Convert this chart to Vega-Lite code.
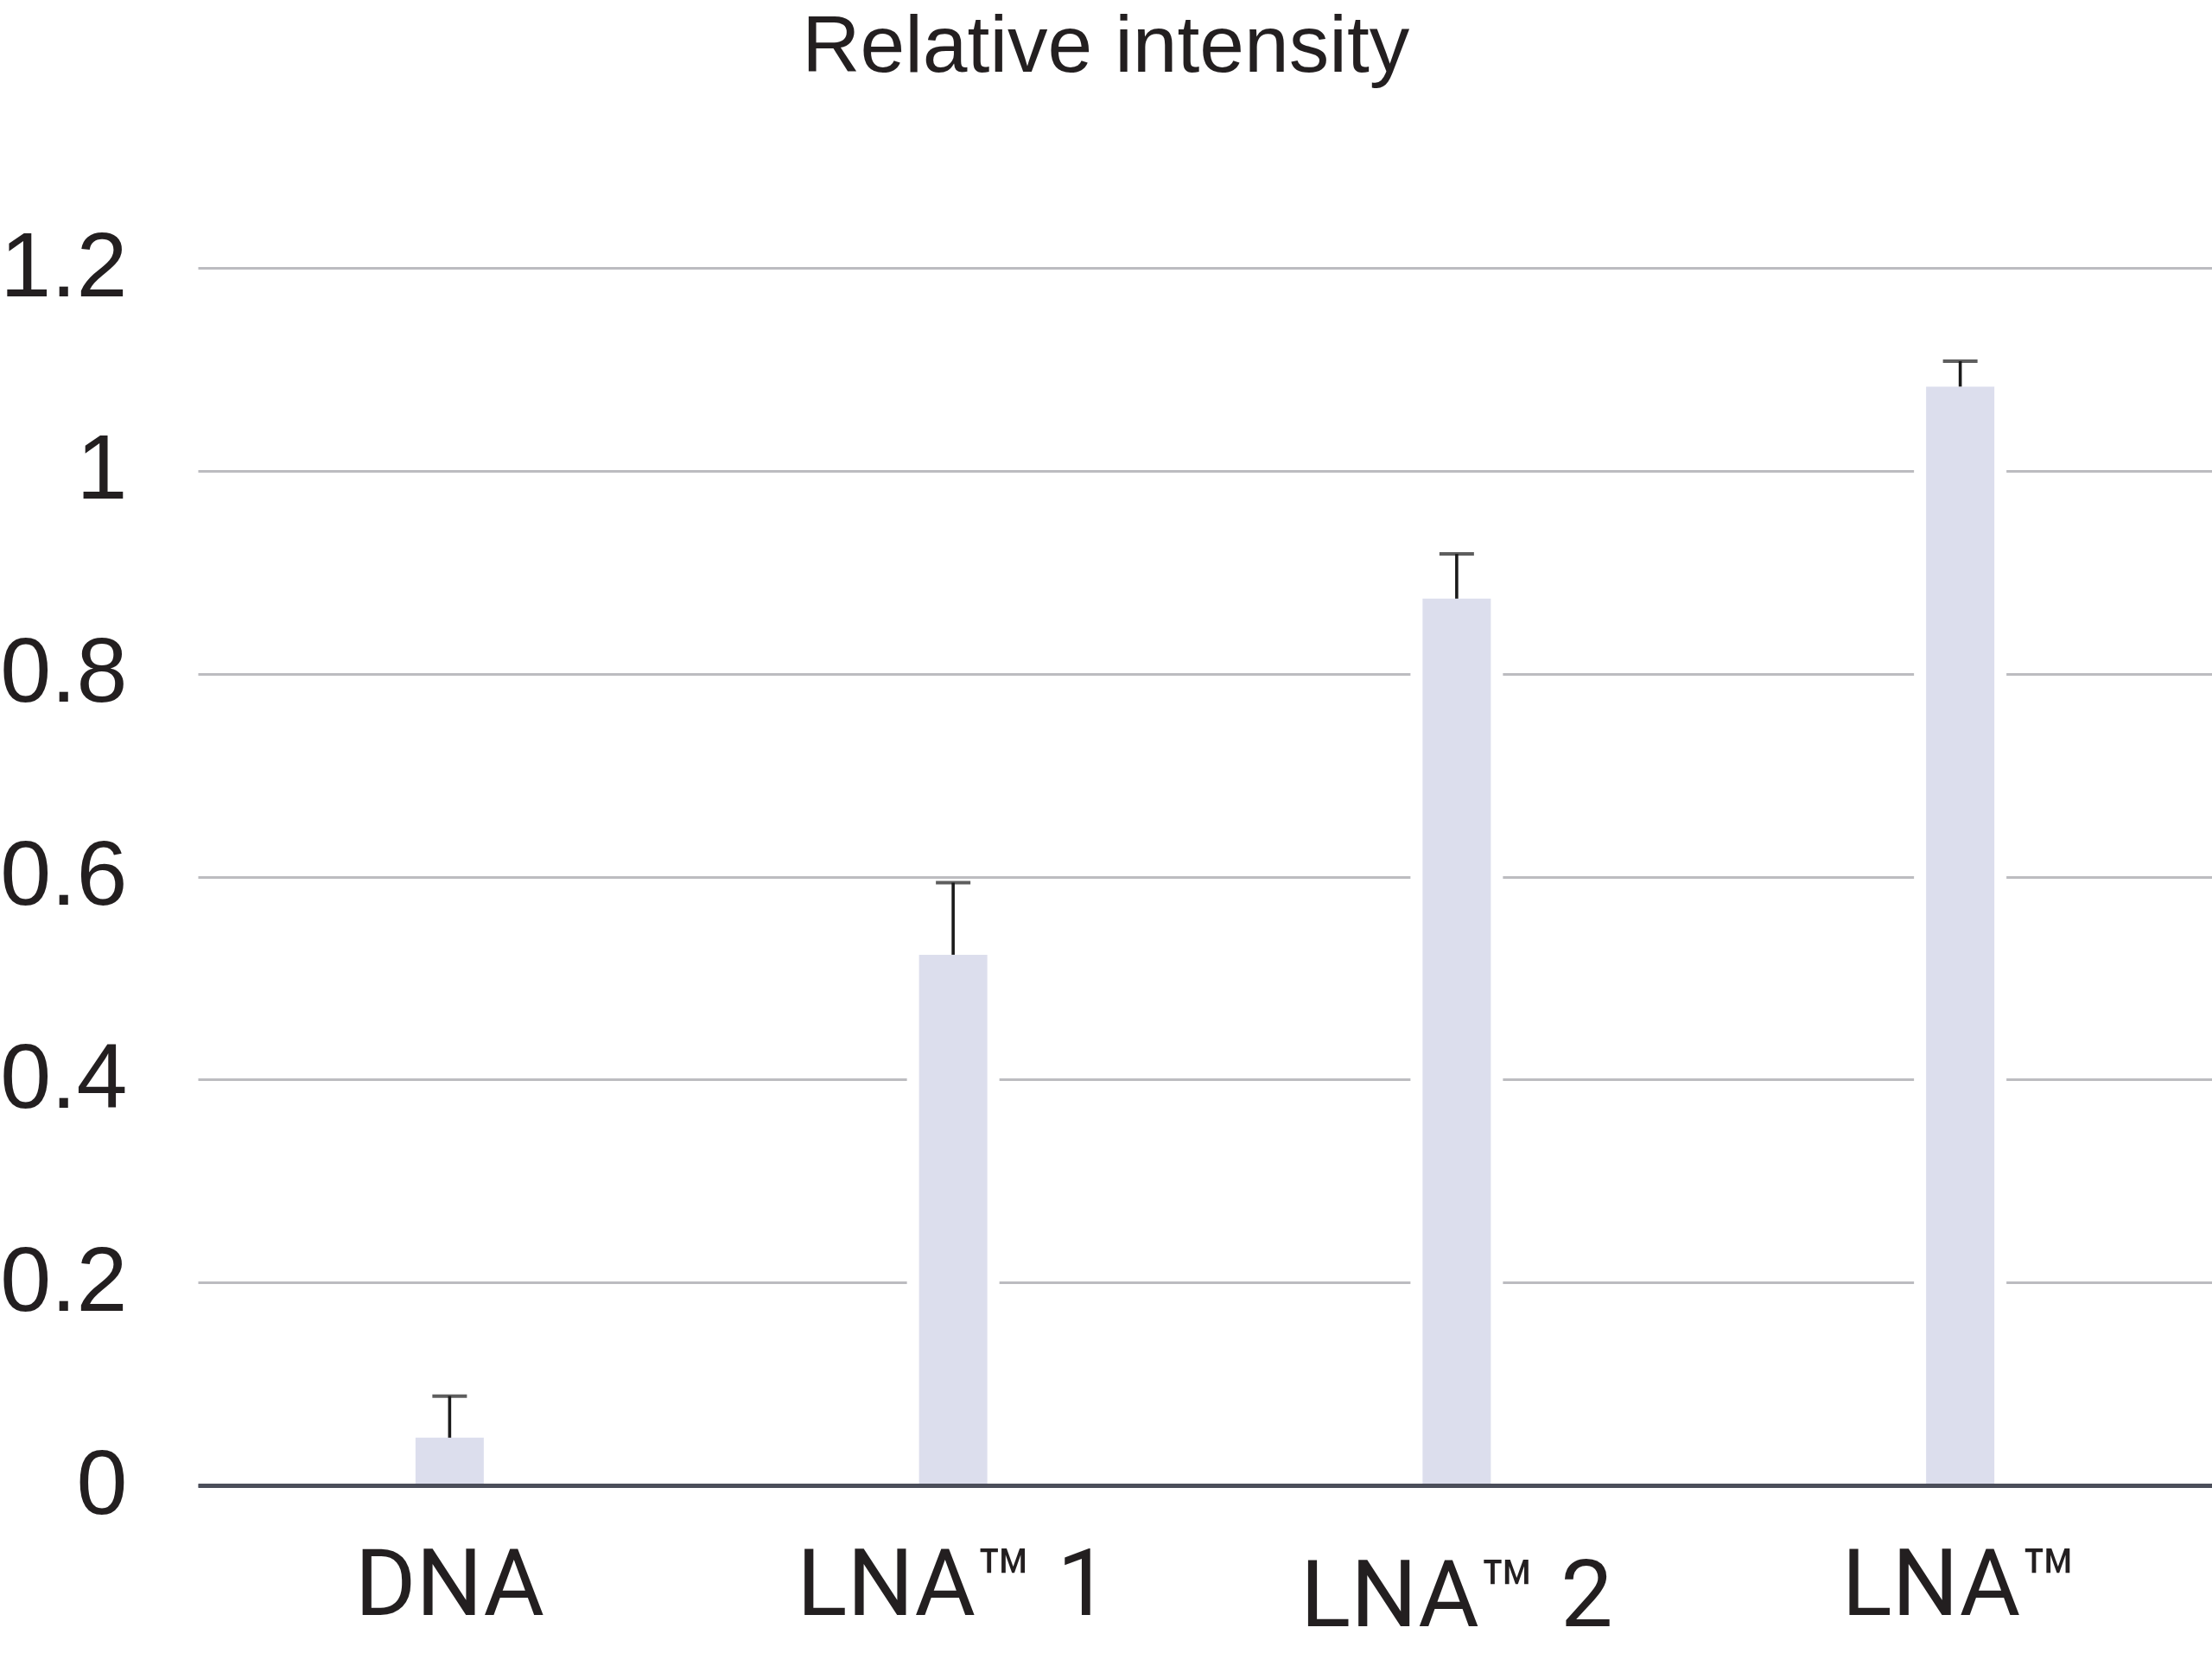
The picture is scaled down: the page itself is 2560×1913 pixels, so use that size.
{
  "$schema": "https://vega.github.io/schema/vega-lite/v6.json",
  "autosize": {"type": "none"},
  "width": 2331,
  "height": 1409,
  "padding": {"left": 229, "top": 310, "right": 0, "bottom": 194},
  "background": "white",
  "title": {
    "text": "Relative intensity",
    "anchor": "middle",
    "frame": "bounds",
    "fontSize": 93,
    "font": "Liberation Sans",
    "fontWeight": "normal",
    "color": "#231f20",
    "offset": 154
  },
  "data": {
    "values": [
      {"sample": "DNA", "value": 0.047, "upper": 0.088},
      {"sample": "LNA™ 1", "value": 0.523, "upper": 0.594},
      {"sample": "LNA™ 2", "value": 0.874, "upper": 0.918},
      {"sample": "LNA™", "value": 1.083, "upper": 1.108}
    ]
  },
  "config": {
    "view": {"stroke": null},
    "font": "Liberation Sans"
  },
  "encoding": {
    "x": {
      "field": "sample",
      "type": "nominal",
      "sort": null,
      "scale": {"paddingInner": 0, "paddingOuter": 0},
      "axis": {
        "title": null,
        "labelAngle": 0,
        "labelLimit": 0,
        "labelFont": "Roboto",
        "labelFontSize": 108,
        "labelColor": "#231f20",
        "labelPadding": {"condition": {"test": "datum.value === 'LNA™ 2'", "value": 77}, "value": 64},
        "ticks": false,
        "domain": true,
        "domainColor": "#4b4e5a",
        "domainWidth": 5,
        "zindex": 1
      }
    }
  },
  "layer": [
    {
      "mark": {"type": "bar", "size": 107, "color": "white"},
      "encoding": {
        "y": {
          "field": "value",
          "type": "quantitative",
          "scale": {"domain": [0, 1.2], "nice": false},
          "axis": {
            "title": null,
            "values": [0, 0.2, 0.4, 0.6, 0.8, 1, 1.2],
            "format": "~g",
            "grid": true,
            "gridColor": "#bcbcc0",
            "gridWidth": 3,
            "domain": false,
            "ticks": false,
            "labelFont": "Liberation Sans",
            "labelFontSize": 106,
            "labelColor": "#231f20",
            "labelPadding": 82
          }
        }
      }
    },
    {
      "mark": {"type": "bar", "size": 79, "color": "#dcdeed"},
      "encoding": {"y": {"field": "value", "type": "quantitative"}}
    },
    {
      "mark": {"type": "rule", "color": "#1a1a1a", "strokeWidth": 3.6},
      "encoding": {
        "y": {"field": "value", "type": "quantitative"},
        "y2": {"field": "upper"}
      }
    },
    {
      "mark": {"type": "tick", "color": "#1a1a1a", "size": 40, "thickness": 4},
      "encoding": {"y": {"field": "upper", "type": "quantitative"}}
    }
  ]
}
